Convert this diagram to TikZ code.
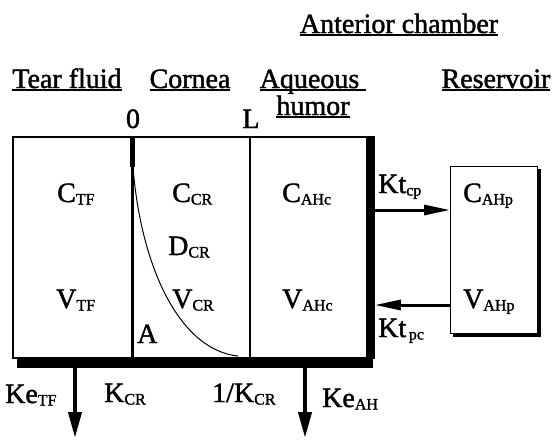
\documentclass[tikz,border=0pt]{standalone}
\usepackage{fontspec}
\setmainfont[FakeBold=1.5]{Liberation Serif}
\usetikzlibrary{arrows.meta, positioning, calc}
\newcommand{\qsub}[2]{#1\raisebox{-2.5pt}{\fontsize{16}{16}\selectfont #2}}
\newcommand{\uhead}[1]{\setbox0=\hbox{#1}\rlap{\rule[-3pt]{\wd0}{1.6pt}}\box0}

\begin{document}
\begin{tikzpicture}[x=1pt, y=-1pt,
    comp/.style={rectangle, draw, line width=1.8pt, inner sep=0pt, anchor=north west, minimum height=221pt},
    head/.style={font=\fontsize{28}{30}\selectfont, inner sep=0pt, anchor=base},
    lbl/.style={font=\fontsize{28}{30}\selectfont, inner sep=0pt, anchor=base west},
    flow/.style={line width=3pt, -{Triangle[length=26pt, width=10pt]}},
    drain/.style={line width=4pt, -{Triangle[length=26pt, width=13pt]}}
]
\useasboundingbox (0,0) rectangle (553,439);

\node[head] (ach) at (399,33) {\uhead{Anterior chamber}};
\node[head] (htf) at (67,88) {\uhead{Tear fluid}};
\node[head] (hcr) at (190,88) {\uhead{Cornea}};
\node[head] (hah) at (313,88) {\uhead{Aqueous\ }};
\node[head] (hhu) at (313,115) {\uhead{humor}};
\node[head] (hres) at (496,88) {\uhead{Reservoir}};
\node[head] (zero) at (133,128) {0};
\node[head] (ell) at (251,128) {L};

\node[comp, minimum width=120pt] (tf) at (12,136) {};
\node[comp, minimum width=117pt] (cr) at (132,136) {};
\node[comp, minimum width=124pt] (ah) at (249,136) {};
\node[comp, line width=1.4pt, minimum width=87pt, minimum height=167pt] (res) at (450,166) {};

\fill (17,357) rectangle (373,368);
\fill (366,138) rectangle (373,368);
\draw[line width=3pt] (cr.north west) -- (cr.south west);
\draw[line width=5pt] (cr.north west) -- ++(0,31);
\draw[line width=3pt] ($(res.north east)+(1.2,3)$) -- ($(res.south east)+(1.2,1.2)$) -- ($(res.south west)+(3,1.2)$);
\draw[line width=1pt] (133,167) .. controls (141,268) and (180,350) .. (238,356);

\node[lbl] (ctf) at (57,202) {\qsub{C}{TF}};
\node[lbl] (vtf) at (56,308) {\qsub{V}{TF}};
\node[lbl] (ccr) at (172,202) {\qsub{C}{CR}};
\node[lbl] (dcr) at (168,255) {\qsub{D}{CR}};
\node[lbl] (vcr) at (172,308) {\qsub{V}{CR}};
\node[lbl] (apt) at (137,343) {A};
\node[lbl] (cahc) at (282,202) {\qsub{C}{AHc}};
\node[lbl] (vahc) at (282,308) {\qsub{V}{AHc}};
\node[lbl] (cahp) at (463,202) {\qsub{C}{AHp}};
\node[lbl] (vahp) at (463,308) {\qsub{V}{AHp}};
\node[lbl] (ktcp) at (378,193) {\qsub{Kt}{cp}};
\node[lbl] (ktpc) at (378,337) {\qsub{Kt}{\,pc}};
\node[lbl] (ketf) at (5,403) {\qsub{Ke}{TF}};
\node[lbl] (kcr) at (104,402) {\qsub{K}{CR}};
\node[lbl] (ikcr) at (212,402) {\qsub{1/K}{CR}};
\node[lbl] (keah) at (322,407) {\qsub{Ke}{AH}};

\coordinate (cpy) at (0,210);
\coordinate (pcy) at (0,305);
\coordinate (tfout) at (75,438);
\coordinate (ahout) at (305,438);
\draw[flow] (ah.east |- cpy) -- (res.west |- cpy);
\draw[flow] (res.west |- pcy) -- (ah.east |- pcy);
\draw[drain] (tfout |- tf.south) -- (tfout);
\draw[drain] (ahout |- ah.south) -- (ahout);
\end{tikzpicture}
\end{document}
